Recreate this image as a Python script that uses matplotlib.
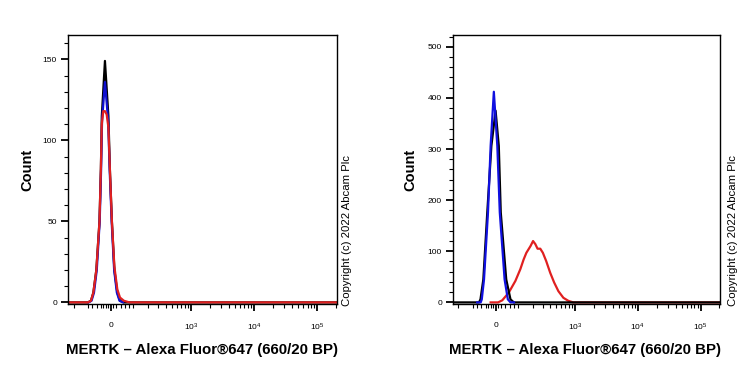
import numpy as np
import matplotlib
matplotlib.use("Agg")
import matplotlib.pyplot as plt
from matplotlib.ticker import FixedLocator

plt.rcParams['font.family'] = ['Liberation Sans', 'DejaVu Sans']

# biexponential-ish axis (arcsinh) width
W = 110.0

# left panel: all three overlap around zero
left_black_x = [-250, -103, -87, -75, -61, -47, -41, -37, -24, -10, -4, 4, 14, 26, 37, 54, 200000]
left_black_y = [0, 0, 1, 6, 20, 50, 82, 115, 149, 115, 82, 50, 20, 6, 1, 0, 0]
left_blue_x = [-100, -84, -72, -59, -46, -40, -36, -24, -11, -5, 3, 13, 24, 35, 50]
left_blue_y = [0, 1, 6, 20, 50, 82, 112, 136, 112, 82, 50, 20, 6, 1, 0]
left_red_x = [-250, -103, -87, -75, -61, -47, -41, -37, -31, -24, -17, -10, -4, 4, 14, 26, 37, 54, 80, 200000]
left_red_y = [0, 0, 1, 6, 20, 50, 82, 110, 118, 118, 116, 108, 82, 50, 22, 8, 3, 1, 0, 0]

# right panel: red shifted positive
right_black_x = [-250, -90, -71, -64, -51, -34, -17, 0, 13, 21, 44, 63, 79, 100, 200000]
right_black_y = [0, 0, 0, 6, 45, 176, 306, 375, 306, 176, 45, 6, 0, 0, 0]
right_blue_x = [-80, -63, -58, -48, -31, -20, -7, 7, 17, 37, 51, 63, 80]
right_blue_y = [0, 0, 6, 45, 176, 306, 412, 306, 176, 45, 6, 0, 0]
right_red_x = [-20, 10, 27, 55, 87, 114, 134, 152, 182, 203, 223, 244, 272, 301,
               342, 399, 463, 543, 654, 787, 944, 200000]
right_red_y = [0, 0, 4, 19, 42, 65, 84, 97, 110, 120, 114, 105, 105, 97,
               81, 58, 39, 22, 9, 3, 0, 0]

x_major = [0, 1e3, 1e4, 1e5]
x_major_labels = ['0', r'$\mathregular{10^3}$', r'$\mathregular{10^4}$', r'$\mathregular{10^5}$']
x_minor = ([-200, -100, -80, -60, -40, -30, -20, -10, 10, 20, 40, 60, 80]
           + list(range(100, 1000, 100)) + list(range(2000, 10000, 1000))
           + list(range(20000, 100000, 10000)) + [200000])

xlabel = 'MERTK \u2013 Alexa Fluor\u00ae647 (660/20 BP)'
copyright_txt = 'Copyright (c) 2022 Abcam Plc'


def fwd(x):
    return np.arcsinh(np.asarray(x, dtype=float) / W)


def inv(u):
    return W * np.sinh(np.asarray(u, dtype=float))


fig = plt.figure(figsize=(7.5, 3.75), dpi=100)
ax1 = fig.add_axes([68/750, 71/375, 269/750, 269/375])
ax2 = fig.add_axes([453/750, 71/375, 267/750, 269/375])


def style(ax, ymax, ystep, yminor):
    ax.set_xscale('function', functions=(fwd, inv))
    ax.set_xlim(-250, 204000)
    ax.set_ylim(-ymax * 0.006, ymax)
    ax.xaxis.set_major_locator(FixedLocator(x_major))
    ax.set_xticklabels(x_major_labels)
    ax.xaxis.set_minor_locator(FixedLocator(x_minor))
    ax.yaxis.set_major_locator(FixedLocator(np.arange(0, ymax, ystep)))
    ax.yaxis.set_minor_locator(FixedLocator(np.arange(0, ymax, yminor)))
    ax.tick_params(which='major', direction='out', length=5, width=1.3, labelsize=6, pad=8)
    ax.tick_params(axis='y', which='major', pad=3)
    ax.tick_params(which='minor', direction='out', length=3, width=0.8)
    for s in ax.spines.values():
        s.set_linewidth(1.0)
    ax.set_ylabel('Count', fontsize=10.5, fontweight='bold')


style(ax1, 165, 50, 10)
ax1.plot(left_black_x, left_black_y, color='black', lw=1.6)
ax1.plot(left_blue_x, left_blue_y, color='#1010d0', lw=1.6)
ax1.plot(left_red_x, left_red_y, color='#e02020', lw=1.6)

style(ax2, 523, 100, 20)
ax2.plot(right_red_x, right_red_y, color='#e02020', lw=1.6)
ax2.plot(right_black_x, right_black_y, color='black', lw=1.6)
ax2.plot(right_blue_x, right_blue_y, color='#1010e0', lw=1.6)

ax1.yaxis.set_label_coords(-0.125, 0.5)
ax2.yaxis.set_label_coords(-0.135, 0.5)

fig.text(202/750, 1 - 350/375, xlabel, ha='center', va='center', fontsize=10.8, fontweight='bold')
fig.text(585/750, 1 - 350/375, xlabel, ha='center', va='center', fontsize=10.8, fontweight='bold')

fig.text(347/750, 1 - 306/375, copyright_txt, rotation=90, ha='center', va='bottom', fontsize=8.2)
fig.text(733/750, 1 - 306/375, copyright_txt, rotation=90, ha='center', va='bottom', fontsize=8.2)

fig.savefig('out.png', dpi=100)
